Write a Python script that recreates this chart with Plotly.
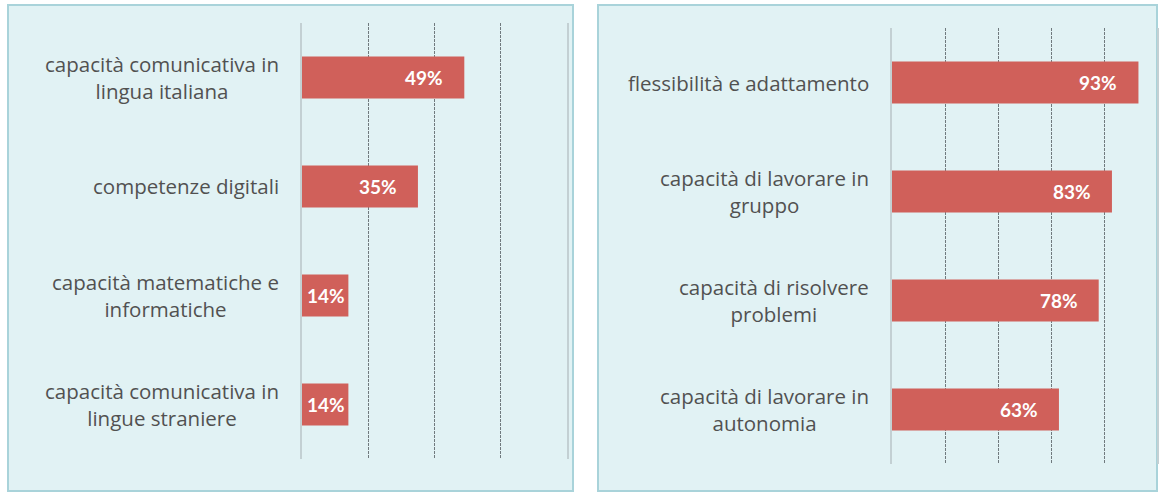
import plotly.graph_objects as go

W, H = 1160, 495

left_labels = [
    "capacità comunicativa in<br>lingua italiana",
    "competenze digitali",
    "capacità matematiche e<br>informatiche",
    "capacità comunicativa in<br>lingue straniere",
]
left_values = [49, 35, 14, 14]
left_ticks = [20, 40, 60]
left_max = 80

right_labels = [
    "flessibilità e adattamento",
    "capacità di lavorare in<br>gruppo",
    "capacità di risolvere<br>problemi",
    "capacità di lavorare in<br>autonomia",
]
right_values = [93, 83, 78, 63]
right_ticks = [20, 40, 60, 80]
right_max = 100

BAR = "#d0605a"
PANEL_FILL = "#e1f2f4"
PANEL_LINE = "#a9d3da"
GRID = "#707a7e"
EDGE = "#c3d0d3"
TEXT = "#515151"
FONT = "Open Sans"


def px(x):
    return x / W


def py(y):
    return 1 - y / H


fig = go.Figure()
fig.add_trace(go.Bar(orientation="h", x=left_values, y=left_labels,
                     marker=dict(color=BAR, line=dict(width=0)),
                     xaxis="x", yaxis="y", hoverinfo="skip"))
fig.add_trace(go.Bar(orientation="h", x=right_values, y=right_labels,
                     marker=dict(color=BAR, line=dict(width=0)),
                     xaxis="x2", yaxis="y2", hoverinfo="skip"))

annotations = []
for labels, values, xr, yr in [(left_labels, left_values, "x", "y"),
                               (right_labels, right_values, "x2", "y2")]:
    for lab, v in zip(labels, values):
        annotations.append(dict(
            x=0, y=lab, xref=xr, yref=yr, text=lab, showarrow=False,
            xanchor="right", yanchor="middle", align="center", xshift=-21,
            font=dict(family=FONT, size=20.5, color=TEXT)))
        annotations.append(dict(
            x=v, y=lab, xref=xr, yref=yr, text=f"<b>{v}%</b>", showarrow=False,
            xanchor="right", yanchor="middle", xshift=(-19 if v > 20 else -1),
            font=dict(family="Lato", size=19, color="white")))

shapes = [
    dict(type="rect", xref="paper", yref="paper", x0=px(8), x1=px(573), y0=py(491), y1=py(5),
         fillcolor=PANEL_FILL, line=dict(color=PANEL_LINE, width=2), layer="below"),
    dict(type="rect", xref="paper", yref="paper", x0=px(598), x1=px(1157), y0=py(491), y1=py(5),
         fillcolor=PANEL_FILL, line=dict(color=PANEL_LINE, width=2), layer="below"),
]

common_x = dict(showgrid=True, gridcolor=GRID, gridwidth=1, griddash="3px,1px",
                zeroline=False, showticklabels=False, ticks="", showline=False,
                fixedrange=True)
common_y = dict(showgrid=False, zeroline=False, showticklabels=False, ticks="",
                showline=True, mirror=True, linecolor=EDGE, linewidth=1.5,
                autorange="reversed", fixedrange=True)

fig.update_layout(
    width=W, height=H,
    margin=dict(l=0, r=0, t=0, b=0),
    paper_bgcolor="white", plot_bgcolor="rgba(0,0,0,0)",
    showlegend=False, bargap=0.615,
    xaxis=dict(domain=[px(302), px(567)], range=[0, left_max],
               tickmode="array", tickvals=left_ticks, anchor="y", **common_x),
    yaxis=dict(domain=[py(459), py(23)], anchor="x",
               categoryorder="array", categoryarray=left_labels, **common_y),
    xaxis2=dict(domain=[px(892), px(1157)], range=[0, right_max],
                tickmode="array", tickvals=right_ticks, anchor="y2", **common_x),
    yaxis2=dict(domain=[py(464), py(28)], anchor="x2",
                categoryorder="array", categoryarray=right_labels, **common_y),
    annotations=annotations,
    shapes=shapes,
)

fig.write_html("out.html")
